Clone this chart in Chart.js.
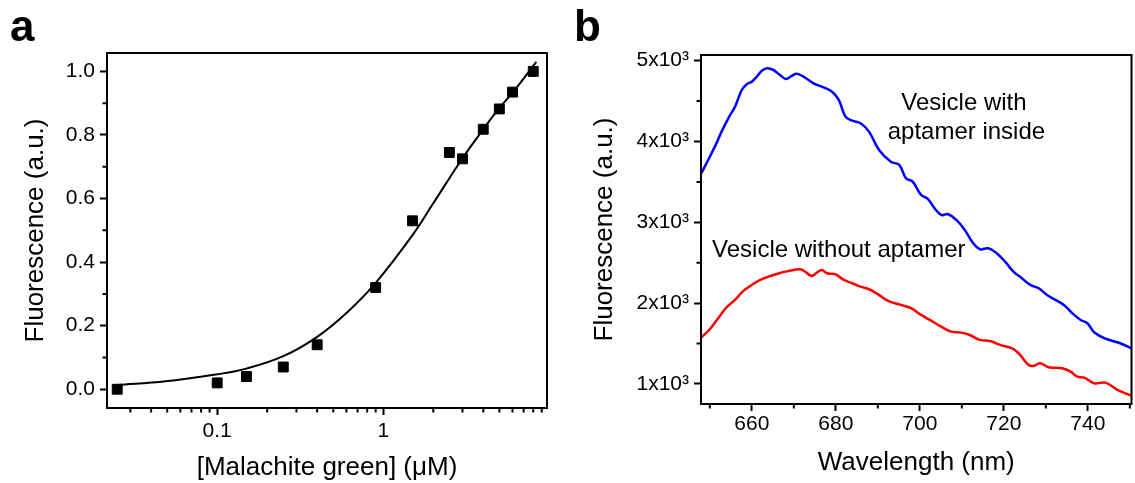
<!DOCTYPE html>
<html>
<head>
<meta charset="utf-8">
<script src="https://cdn.jsdelivr.net/npm/chart.js@4.4.1/dist/chart.umd.min.js"></script>
<style>
  html, body { margin: 0; padding: 0; background: #fff; }
  #wrap { position: relative; width: 1135px; height: 483px; overflow: hidden; }
  canvas { position: absolute; top: 0; }
  .panel-label { position: absolute; font: bold 44px "Liberation Sans", Arial, sans-serif; line-height: 1; color: #000; }
</style>
</head>
<body>
<div id="wrap">
  <canvas id="chartA" width="580" height="483" style="left:0"></canvas>
  <canvas id="chartB" width="555" height="483" style="left:580px"></canvas>
  <div class="panel-label" style="left:10px;top:4px">a</div>
  <div class="panel-label" style="left:574px;top:4px">b</div>
</div>
<script>
// ---- panel a: titration ----
const conc = [0.025, 0.1, 0.15, 0.25, 0.4, 0.9, 1.5, 2.5, 3, 4, 5, 6, 8];
const fluor = [0.0, 0.02, 0.04, 0.07, 0.14, 0.32, 0.53, 0.745, 0.725, 0.818, 0.882, 0.935, 1.0];
// fitted curve
const fitConc = [0.025, 0.049, 0.1, 0.15, 0.25, 0.4, 0.6, 0.9, 1.5, 2, 3, 4, 5, 6, 8.35];
const fitValue = [0.013, 0.025, 0.047, 0.065, 0.104, 0.165, 0.24, 0.335, 0.485, 0.585, 0.727, 0.818, 0.885, 0.933, 1.03];
const concTicks = [0.1, 1];
const concMinor = [0.03, 0.04, 0.05, 0.06, 0.07, 0.08, 0.09, 0.2, 0.3, 0.4, 0.5, 0.6, 0.7, 0.8, 0.9, 2, 3, 4, 5, 6, 7, 8, 9];
const fluorTicks = [0, 0.2, 0.4, 0.6, 0.8, 1.0];
const fluorMinor = [0.1, 0.3, 0.5, 0.7, 0.9];

// ---- panel b: spectra ----
const withWl = [648.0, 649.6, 651.2, 652.8, 654.4, 656.0, 657.6, 658.8, 660.0, 661.2, 662.4, 663.7, 665.1, 666.7, 668.1, 669.5, 670.7, 672.3, 674.7, 677.1, 679.1, 680.7, 682.3, 683.9, 685.9, 687.9, 690.3, 693.1, 695.1, 696.7, 698.3, 700.3, 701.9, 703.5, 705.1, 706.7, 708.7, 710.7, 712.7, 714.3, 716.3, 718.3, 720.3, 722.3, 724.3, 726.3, 728.3, 730.3, 732.3, 734.3, 736.3, 738.3, 739.9, 741.5, 744.2, 747.4, 750.4];
const withSignal = [3607, 3771, 3936, 4122, 4287, 4431, 4637, 4708, 4740, 4802, 4876, 4906, 4885, 4823, 4774, 4811, 4839, 4802, 4720, 4670, 4616, 4514, 4307, 4258, 4226, 4122, 3895, 3750, 3710, 3545, 3503, 3339, 3289, 3174, 3091, 3100, 3029, 2905, 2741, 2667, 2679, 2617, 2513, 2390, 2308, 2225, 2184, 2101, 2040, 1978, 1875, 1792, 1751, 1640, 1560, 1510, 1440];
const withoutWl = [648.0, 650.0, 652.0, 654.0, 656.0, 658.0, 660.0, 662.0, 664.0, 666.0, 668.0, 670.0, 671.5, 672.7, 674.2, 675.5, 676.6, 677.9, 679.9, 681.9, 683.9, 685.9, 687.9, 689.9, 692.3, 695.5, 697.9, 700.3, 702.7, 705.1, 707.5, 709.9, 711.9, 714.3, 716.7, 719.1, 721.9, 723.5, 725.9, 727.1, 728.7, 730.7, 733.9, 735.9, 737.5, 739.1, 741.5, 744.2, 747.4, 750.4];
const withoutSignal = [1578, 1677, 1813, 1949, 2040, 2151, 2225, 2287, 2328, 2361, 2390, 2411, 2419, 2390, 2336, 2377, 2411, 2370, 2357, 2287, 2246, 2204, 2172, 2114, 2031, 1978, 1937, 1854, 1783, 1709, 1647, 1635, 1606, 1545, 1532, 1483, 1442, 1380, 1235, 1223, 1256, 1206, 1194, 1152, 1090, 1078, 1009, 1016, 917, 856];
const wlTicks = [660, 680, 700, 720, 740];
const wlMinor = [650, 670, 690, 710, 730, 750];
const sigTicks = [1000, 2000, 3000, 4000, 5000];
const sigMinor = [1500, 2500, 3500, 4500];

const FONT = '"Liberation Sans", Arial, sans-serif';
const tickFont = { family: FONT, size: 21 };
const titleFont = { family: FONT, size: 26 };

// box around the plot, minor ticks and the text notes
const framePlugin = {
  id: 'frame',
  afterDraw(chart, args, opts) {
    const { ctx, chartArea: a, scales } = chart;
    ctx.save();
    ctx.strokeStyle = '#000';
    ctx.lineWidth = 2;
    ctx.strokeRect(a.left, a.top, a.right - a.left, a.bottom - a.top);
    ctx.beginPath();
    (opts.xMinor || []).forEach(v => {
      const px = scales.x.getPixelForValue(v);
      ctx.moveTo(px, a.bottom);
      ctx.lineTo(px, a.bottom + 4.5);
    });
    (opts.yMinor || []).forEach(v => {
      const py = scales.y.getPixelForValue(v);
      ctx.moveTo(a.left, py);
      ctx.lineTo(a.left - 4.5, py);
    });
    ctx.stroke();
    ctx.fillStyle = '#000';
    ctx.font = '24px ' + FONT;
    ctx.textAlign = 'center';
    ctx.textBaseline = 'middle';
    (opts.notes || []).forEach(n => {
      ctx.fillText(n.text, scales.x.getPixelForValue(n.x), scales.y.getPixelForValue(n.y));
    });
    ctx.restore();
  }
};

const tickGrid = { drawOnChartArea: false, drawTicks: true, tickLength: 7, tickWidth: 2, tickColor: '#000' };

new Chart(document.getElementById('chartA'), {
  data: {
    datasets: [
      {
        type: 'line',
        data: fitConc.map((c, i) => ({ x: c, y: fitValue[i] })),
        borderColor: '#000',
        borderWidth: 2,
        pointRadius: 0,
        tension: 0.4,
        fill: false,
      },
      {
        type: 'scatter',
        data: conc.map((c, i) => ({ x: c, y: fluor[i] })),
        pointStyle: 'rect',
        pointRadius: 7,
        backgroundColor: '#000',
        borderColor: '#000',
        borderWidth: 1,
      },
    ],
  },
  options: {
    responsive: false,
    animation: false,
    layout: { padding: { left: 0, top: 53, right: 33, bottom: 0 } },
    plugins: {
      legend: { display: false },
      tooltip: { enabled: false },
      frame: { xMinor: concMinor, yMinor: fluorMinor },
    },
    scales: {
      x: {
        type: 'logarithmic',
        min: 0.0217,
        max: 9.68,
        afterBuildTicks: (scale) => { scale.ticks = concTicks.map(v => ({ value: v })); },
        afterFit: (scale) => { scale.height = 75; },
        ticks: { autoSkip: false, maxRotation: 0, color: '#000', font: tickFont, padding: 4, callback: (v) => String(v) },
        grid: tickGrid,
        border: { display: false },
        title: { display: true, text: '[Malachite green] (\u03bcM)', color: '#000', font: titleFont, padding: { top: 0, bottom: 0 } },
      },
      y: {
        min: -0.059,
        max: 1.058,
        afterBuildTicks: (scale) => { scale.ticks = fluorTicks.map(v => ({ value: v })); },
        afterFit: (scale) => { scale.width = 107; },
        ticks: { autoSkip: false, color: '#000', font: tickFont, padding: 5, callback: (v) => v.toFixed(1) },
        grid: tickGrid,
        border: { display: false },
        title: { display: true, text: 'Fluorescence (a.u.)', color: '#000', font: titleFont, padding: { top: 20, bottom: 0 } },
      },
    },
  },
  plugins: [framePlugin],
});

new Chart(document.getElementById('chartB'), {
  type: 'line',
  data: {
    datasets: [
      {
        label: 'Vesicle with aptamer inside',
        data: withWl.map((w, i) => ({ x: w, y: withSignal[i] })),
        borderColor: '#0000ff',
        borderWidth: 2.5,
        pointRadius: 0,
        tension: 0.4,
      },
      {
        label: 'Vesicle without aptamer',
        data: withoutWl.map((w, i) => ({ x: w, y: withoutSignal[i] })),
        borderColor: '#ff0000',
        borderWidth: 2.5,
        pointRadius: 0,
        tension: 0.4,
      },
    ],
  },
  options: {
    responsive: false,
    animation: false,
    layout: { padding: { left: 0, top: 55, right: 3.5, bottom: 0 } },
    plugins: {
      legend: { display: false },
      tooltip: { enabled: false },
      frame: {
        xMinor: wlMinor,
        yMinor: sigMinor,
        notes: [
          { text: 'Vesicle with', x: 710.5, y: 4477 },
          { text: 'aptamer inside', x: 711.1, y: 4118 },
          { text: 'Vesicle without aptamer', x: 680.7, y: 2658 },
        ],
      },
    },
    scales: {
      x: {
        type: 'linear',
        min: 647.9,
        max: 750.4,
        afterBuildTicks: (scale) => { scale.ticks = wlTicks.map(v => ({ value: v })); },
        afterFit: (scale) => { scale.height = 79; },
        ticks: { autoSkip: false, maxRotation: 0, color: '#000', font: tickFont, padding: 1, callback: (v) => String(v) },
        grid: tickGrid,
        border: { display: false },
        title: { display: true, text: 'Wavelength (nm)', color: '#000', font: titleFont, padding: { top: 0, bottom: 5 } },
      },
      y: {
        min: 752,
        max: 5070,
        afterBuildTicks: (scale) => { scale.ticks = sigTicks.map(v => ({ value: v })); },
        afterFit: (scale) => { scale.width = 121; },
        ticks: { autoSkip: false, color: '#000', font: tickFont, padding: 5, callback: (v) => (v / 1000) + 'x10\u00b3' },
        grid: tickGrid,
        border: { display: false },
        title: { display: true, text: 'Fluorescence (a.u.)', color: '#000', font: titleFont, padding: { top: 9, bottom: 0 } },
      },
    },
  },
  plugins: [framePlugin],
});
</script>
</body>
</html>
